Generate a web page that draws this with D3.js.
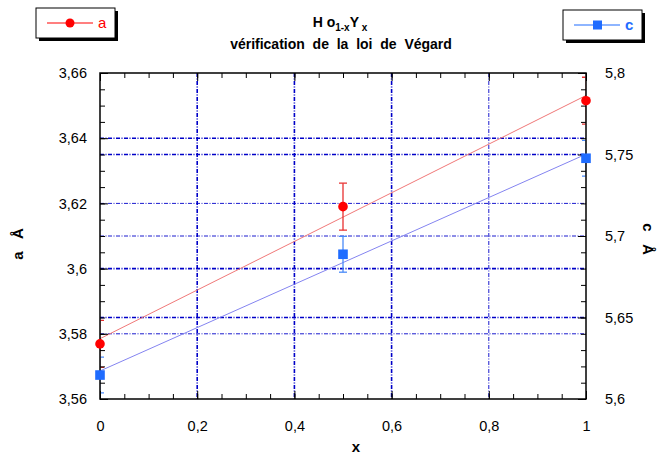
<!DOCTYPE html>
<html><head><meta charset="utf-8">
<script src="https://cdn.jsdelivr.net/npm/d3@7"></script>
<style>
html,body{margin:0;padding:0;background:#fff;}
text{font-family:"Liberation Sans",Arial,Helvetica,sans-serif;}
</style></head>
<body>
<svg id="chart" width="658" height="457"></svg>
<script>
// ---- data ----
const xVals = [0, 0.5, 1];
const aVals = [3.5769, 3.619, 3.6515];
const aErr = [0.0072, 0.0072, 0.0072];
const cVals = [5.6147, 5.6888, 5.7477];
const cErr = [0.011, 0.011, 0.011];
const fitX = [0, 1];
const aFit = [3.5785, 3.6531];
const cFit = [5.6172, 5.7502];
const xTicks = [0, 0.2, 0.4, 0.6, 0.8, 1];
const xTickLabels = ["0", "0,2", "0,4", "0,6", "0,8", "1"];
const aTicks = [3.56, 3.58, 3.6, 3.62, 3.64, 3.66];
const aTickLabels = ["3,56", "3,58", "3,6", "3,62", "3,64", "3,66"];
const cTicks = [5.6, 5.65, 5.7, 5.75, 5.8];
const cTickLabels = ["5,6", "5,65", "5,7", "5,75", "5,8"];

const svg = d3.select("#chart");
const L = 100, R = 586, T = 73, B = 399;
const x = d3.scaleLinear().domain([0, 1]).range([L, R]);
const ya = d3.scaleLinear().domain([3.56, 3.66]).range([B, T]);
const yc = d3.scaleLinear().domain([5.6, 5.8]).range([B, T]);

svg.append("defs").append("clipPath").attr("id", "plotclip")
  .append("rect").attr("x", L + 0.5).attr("y", T).attr("width", R - L - 1).attr("height", B - T);

const gridCol = "#0000c8";
// grid lines
const vGrid = [0.2, 0.4, 0.6, 0.8];
svg.append("g").selectAll("line").data(vGrid).join("line")
  .attr("x1", d => x(d)).attr("x2", d => x(d)).attr("y1", T).attr("y2", B)
  .attr("stroke", gridCol)
  .attr("stroke-width", d => d === 0.8 ? 0.9 : 1.6)
  .attr("stroke-dasharray", "4,1.5,1,1.5");
const aGrid = [3.58, 3.6, 3.62, 3.64];
svg.append("g").selectAll("line").data(aGrid).join("line")
  .attr("x1", L).attr("x2", R).attr("y1", d => ya(d)).attr("y2", d => ya(d))
  .attr("stroke", gridCol)
  .attr("stroke-width", d => (d === 3.6 || d === 3.64) ? 1.6 : 0.9)
  .attr("stroke-dasharray", "4,1.5,1,1.5");
const cGrid = [5.65, 5.7, 5.75];
svg.append("g").selectAll("line").data(cGrid).join("line")
  .attr("x1", L).attr("x2", R).attr("y1", d => yc(d)).attr("y2", d => yc(d))
  .attr("stroke", gridCol)
  .attr("stroke-width", d => d === 5.7 ? 0.9 : 1.6)
  .attr("stroke-dasharray", "4,1.5,1,1.5");

// fit lines
const aLine = d3.line().x((d, i) => x(fitX[i])).y(d => ya(d));
const cLine = d3.line().x((d, i) => x(fitX[i])).y(d => yc(d));
svg.append("path").attr("d", aLine(aFit)).attr("fill", "none").attr("stroke", "#f07878").attr("stroke-width", 1);
svg.append("path").attr("d", cLine(cFit)).attr("fill", "none").attr("stroke", "#8484f0").attr("stroke-width", 1);

// error bars (clipped to plot area, under the frame)
const cap = 4;
function errBars(vals, errs, scale, col) {
  const g = svg.append("g").attr("clip-path", "url(#plotclip)").attr("stroke", col).attr("stroke-width", 1.3);
  vals.forEach((v, i) => {
    const cx = x(xVals[i]);
    g.append("line").attr("x1", cx).attr("x2", cx).attr("y1", scale(v - errs[i])).attr("y2", scale(v + errs[i]));
    g.append("line").attr("x1", cx - cap).attr("x2", cx + cap).attr("y1", scale(v - errs[i])).attr("y2", scale(v - errs[i]));
    g.append("line").attr("x1", cx - cap).attr("x2", cx + cap).attr("y1", scale(v + errs[i])).attr("y2", scale(v + errs[i]));
  });
}
errBars(aVals, aErr, ya, "#e83030");
errBars(cVals, cErr, yc, "#4a8af8");

// axes
function styleAxis(g) {
  g.select(".domain").remove();
  g.selectAll(".tick line").attr("stroke", "#000").attr("stroke-width", 1);
  g.selectAll(".tick text").attr("font-size", "14.5px").attr("fill", "#000");
}
// minor ticks
svg.append("g").attr("transform", `translate(${L},0)`)
  .call(d3.axisLeft(ya).tickValues(d3.range(3.56, 3.6601, 0.005)).tickSize(-5).tickFormat(""))
  .call(styleAxis);
svg.append("g").attr("transform", `translate(${R},0)`)
  .call(d3.axisRight(yc).tickValues(d3.range(5.6, 5.8001, 0.01)).tickSize(-5).tickFormat(""))
  .call(styleAxis);
svg.append("g").attr("transform", `translate(0,${B})`)
  .call(d3.axisBottom(x).tickValues(d3.range(0, 1.0001, 0.05)).tickSize(-5).tickFormat(""))
  .call(styleAxis);
svg.append("g").attr("transform", `translate(0,${T})`)
  .call(d3.axisTop(x).tickValues(d3.range(0, 1.0001, 0.05)).tickSize(-5).tickFormat(""))
  .call(styleAxis);
// major ticks with labels
svg.append("g").attr("transform", `translate(${L},0)`)
  .call(d3.axisLeft(ya).tickValues(aTicks).tickSize(-8).tickPadding(13).tickFormat((d, i) => aTickLabels[i]))
  .call(styleAxis);
svg.append("g").attr("transform", `translate(${R},0)`)
  .call(d3.axisRight(yc).tickValues(cTicks).tickSize(-8).tickPadding(19).tickFormat((d, i) => cTickLabels[i]))
  .call(styleAxis);
svg.append("g").attr("transform", `translate(0,${B})`)
  .call(d3.axisBottom(x).tickValues(xTicks).tickSize(-8).tickPadding(22).tickFormat((d, i) => xTickLabels[i]))
  .call(styleAxis);
svg.append("g").attr("transform", `translate(0,${T})`)
  .call(d3.axisTop(x).tickValues(xTicks).tickSize(-8).tickFormat(""))
  .call(styleAxis);

// frame
svg.append("rect").attr("x", L).attr("y", T).attr("width", R - L).attr("height", B - T)
  .attr("fill", "none").attr("stroke", "#000").attr("stroke-width", 1.5);

// markers
svg.append("g").selectAll("circle").data(aVals).join("circle")
  .attr("cx", (d, i) => x(xVals[i])).attr("cy", d => ya(d)).attr("r", 4.8).attr("fill", "#ff0000");
svg.append("g").selectAll("rect").data(cVals).join("rect")
  .attr("x", (d, i) => x(xVals[i]) - 4.8).attr("y", d => yc(d) - 4.8)
  .attr("width", 9.6).attr("height", 9.6).attr("fill", "#1f6cff");

// titles
const t1 = svg.append("text").attr("x", 340).attr("y", 27).attr("text-anchor", "middle")
  .attr("font-size", "14px").attr("font-weight", "bold").attr("fill", "#000")
  .style("white-space", "pre");
t1.append("tspan").text("H o");
t1.append("tspan").attr("font-size", "10px").attr("dy", 4).text("1-x");
t1.append("tspan").attr("dy", -4).text("Y");
t1.append("tspan").attr("font-size", "10px").attr("dy", 4).text(" x");
svg.append("text").attr("x", 341).attr("y", 49).attr("text-anchor", "middle")
  .attr("font-size", "14px").attr("font-weight", "bold").attr("fill", "#000")
  .style("white-space", "pre").text("vérification  de  la  loi  de  Végard");

svg.append("text").attr("x", 356).attr("y", 452).attr("text-anchor", "middle")
  .attr("font-size", "15px").attr("font-weight", "bold").text("x");
svg.append("text").attr("transform", "translate(23,244) rotate(-90)").attr("text-anchor", "middle")
  .attr("font-size", "15px").attr("font-weight", "bold").style("white-space", "pre").text("a   Å");
svg.append("text").attr("transform", "translate(643,239) rotate(90)").attr("text-anchor", "middle")
  .attr("font-size", "15px").attr("font-weight", "bold").style("white-space", "pre").text("c   Å");

// legends
function legend(x0, y0, w, h, col, sym, label) {
  const g = svg.append("g");
  g.append("rect").attr("x", x0 + 3).attr("y", y0 + 3).attr("width", w).attr("height", h).attr("fill", "#000");
  g.append("rect").attr("x", x0).attr("y", y0).attr("width", w).attr("height", h)
    .attr("fill", "#fff").attr("stroke", "#000").attr("stroke-width", 1);
  const cy = y0 + h / 2;
  g.append("line").attr("x1", x0 + 11).attr("x2", x0 + 57).attr("y1", cy).attr("y2", cy)
    .attr("stroke", col).attr("stroke-width", 1.2);
  if (sym === "circle") g.append("circle").attr("cx", x0 + 34).attr("cy", cy).attr("r", 4.5).attr("fill", col);
  else g.append("rect").attr("x", x0 + 30).attr("y", cy - 4.5).attr("width", 9).attr("height", 9).attr("fill", col);
  g.append("text").attr("x", x0 + 62).attr("y", cy + 5).attr("font-size", "15px")
    .attr("font-weight", sym === "circle" ? "normal" : "bold").attr("fill", col).text(label);
}
legend(36, 8, 79, 30, "#ff0000", "circle", "a");
legend(563, 10, 79, 30, "#1f6cff", "square", "c");
</script>
</body></html>
